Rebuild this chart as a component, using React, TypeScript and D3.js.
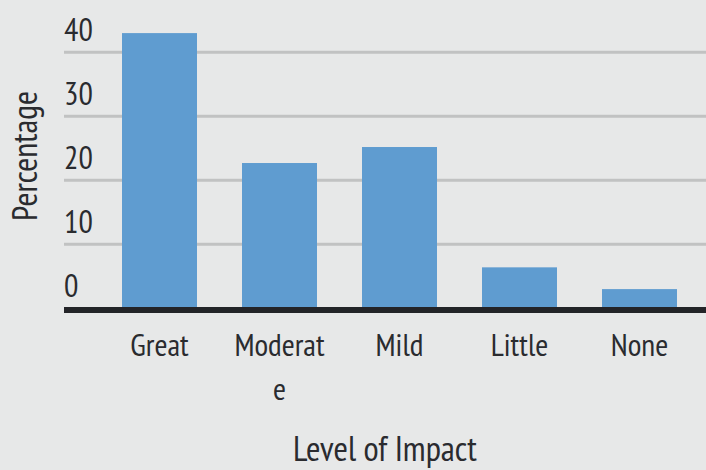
import React, { useLayoutEffect, useRef } from "react";
import * as d3 from "d3";

const categories = ["Great", "Moderate", "Mild", "Little", "None"];
const values = [43.0, 22.7, 25.2, 6.4, 3.0];
const yTicks = [0, 10, 20, 30, 40];
const xTitle = "Level of Impact";
const yTitle = "Percentage";

const W = 706;
const H = 470;
const FONT = "'Liberation Sans Narrow', 'PT Sans Narrow', 'Arial Narrow', 'Liberation Sans', sans-serif";
const TEXT = "#2a2b2f";

export default function App() {
  const ref = useRef<SVGSVGElement>(null);
  const y = d3.scaleLinear().domain([0, 40]).range([308.3, 52.3]);
  const x = d3
    .scaleBand<string>()
    .domain(categories)
    .range([99.5, 699.5])
    .paddingInner(0.375)
    .paddingOuter(0.1875);

  useLayoutEffect(() => {
    if (!ref.current) return;
    const maxW = 97;
    d3.select(ref.current)
      .selectAll<SVGTextElement, string>("text.xlabel")
      .each(function () {
        const t = d3.select(this);
        const word = t.attr("data-label") || "";
        t.selectAll("*").remove();
        t.text(null);
        const lines: string[] = [];
        let cur = "";
        const probe = t.append("tspan").attr("x", t.attr("x"));
        for (const ch of word) {
          probe.text(cur + ch);
          if ((probe.node() as SVGTSpanElement).getComputedTextLength() > maxW && cur) {
            lines.push(cur);
            cur = ch;
          } else {
            cur += ch;
          }
        }
        lines.push(cur);
        probe.remove();
        lines.forEach((ln, i) => {
          t.append("tspan")
            .attr("x", t.attr("x"))
            .attr("dy", i === 0 ? 0 : 44)
            .text(ln);
        });
      });
  }, []);

  return (
    <svg
      ref={ref}
      width={W}
      height={H}
      style={{ position: "absolute", left: 0, top: 0, background: "#e7e8e8", display: "block" }}
      fontFamily={FONT}
    >
      <rect x={0} y={0} width={W} height={H} fill="#e7e8e8" />
      {yTicks
        .filter((v) => v > 0)
        .map((v) => (
          <line key={"g" + v} x1={64} x2={W} y1={y(v)} y2={y(v)} stroke="#c1c2c2" strokeWidth={3} />
        ))}
      {categories.map((c, i) => (
        <rect
          key={c}
          x={x(c)}
          width={x.bandwidth()}
          y={y(values[i])}
          height={y(0) - y(values[i])}
          fill="#5f9cd0"
        />
      ))}
      <line x1={64} x2={W} y1={310} y2={310} stroke="#232428" strokeWidth={6} />
      {yTicks.map((v) => (
        <text key={"t" + v} x={64} y={y(v) - 11} fontSize={32} fill={TEXT} textAnchor="start">
          {v}
        </text>
      ))}
      {categories.map((c) => (
        <text
          key={"l" + c}
          className="xlabel"
          data-label={c}
          x={(x(c) as number) + x.bandwidth() / 2}
          y={356}
          fontSize={31.5}
          fill={TEXT}
          textAnchor="middle"
        >
          {c}
        </text>
      ))}
      <text x={385} y={461} fontSize={35} fill={TEXT} textAnchor="middle">
        {xTitle}
      </text>
      <text
        transform={`translate(37,156) rotate(-90)`}
        fontSize={34}
        fill={TEXT}
        textAnchor="middle"
      >
        {yTitle}
      </text>
    </svg>
  );
}
